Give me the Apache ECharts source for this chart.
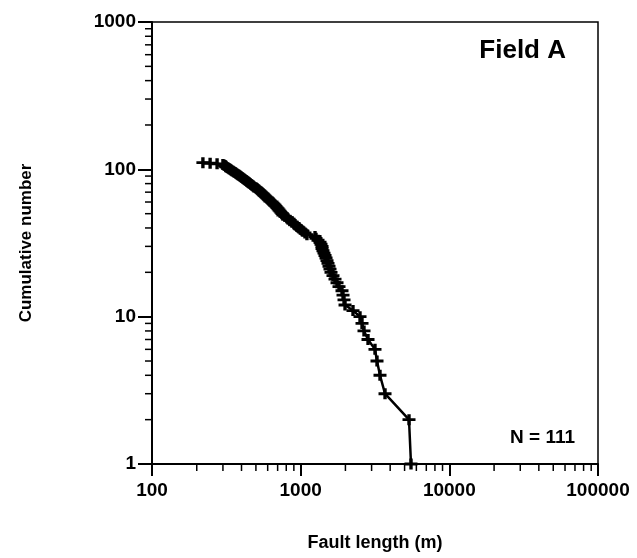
<!DOCTYPE html>
<html>
<head>
<meta charset="utf-8">
<script src="https://cdn.jsdelivr.net/npm/echarts@6/dist/echarts.min.js"></script>
<style>
    html, body { margin: 0; padding: 0; background: #fff; }
    #chart { width: 637px; height: 558px; }
</style>
</head>
<body>
<div id="chart"></div>
<script>
// fault lengths (m), smallest first
const faultLength = [
    220, 246, 274, 300,
    305, 310, 314, 314, 320, 325, 330, 335, 340, 345, 351, 356, 362, 367, 373, 379, 385, 391,
    397, 403, 409, 416, 422, 429, 435, 442, 449, 456, 463, 470, 478, 485, 500, 508,
    516, 524, 532, 541, 549, 558, 566, 575, 584, 593, 603, 612, 622, 641, 651,
    661, 672, 682, 693, 704, 715, 726, 737, 749, 760,
    784, 809, 821, 847, 874, 901, 915, 944,
    974, 1005, 1036, 1069, 1102,
    1249, 1268, 1308, 1349,
    1370, 1392, 1392, 1413, 1435, 1458,
    1481, 1504, 1527, 1551, 1575,
    1600, 1650, 1702, 1756,
    1811, 1897, 1927, 1957, 1988,
    2249, 2507, 2586, 2667, 2838, 3162, 3262, 3417, 3693, 5355, 5523
];
// cumulative number for each length
const cumulativeNumber = [
    111, 110, 109, 108, 107, 106, 105, 104, 103, 102, 101, 100,
    99, 98, 97, 96, 95, 94, 93, 92, 91, 90, 89, 88, 87, 86, 85, 84, 83, 82, 81, 80,
    79, 78, 77, 76, 75, 74, 73, 72, 71, 70, 69, 68, 67, 66, 65, 64, 63, 62, 61, 60,
    59, 58, 57, 56, 55, 54, 53, 52, 51, 50, 49, 48, 47, 46, 45, 44, 43, 42, 41, 40,
    39, 38, 37, 36, 35, 34, 33, 32, 31, 30, 29, 28, 27, 26, 25, 24, 23, 22, 21, 20,
    19, 18, 17, 16, 15, 14, 13, 12, 11, 10, 9, 8, 7, 6, 5, 4, 3, 2, 1
];
const xTicks = [100, 1000, 10000, 100000];
const yTicks = [1, 10, 100, 1000];
const minorSteps = [2, 3, 4, 5, 6, 7, 8, 9];

const font = 'Liberation Sans, Arial, sans-serif';
const crossSymbol = 'path://M0,3.7H3.7V0H6.3V3.7H10V6.3H6.3V10H3.7V6.3H0Z';

const option = {
    animation: false,
    backgroundColor: '#fff',
    grid: {
        left: 152,
        right: 39,
        top: 22,
        bottom: 94,
        show: true,
        borderColor: '#000',
        borderWidth: 1.5,
    },
    xAxis: {
        type: 'log',
        logBase: 10,
        min: xTicks[0],
        max: xTicks[xTicks.length - 1],
        name: 'Fault length (m)',
        nameLocation: 'middle',
        nameGap: 70,
        nameTextStyle: { color: '#000', fontSize: 18, fontWeight: 'bold', fontFamily: font },
        axisLine: { lineStyle: { color: '#000', width: 2 } },
        axisTick: { length: 12, lineStyle: { color: '#000', width: 2 } },
        axisLabel: {
            color: '#000', fontSize: 19, fontWeight: 'bold', fontFamily: font, margin: 17,
            formatter: (v) => String(Math.round(v)),
        },
        splitLine: { show: false },
    },
    yAxis: {
        type: 'log',
        logBase: 10,
        min: yTicks[0],
        max: yTicks[yTicks.length - 1],
        name: 'Cumulative number',
        nameLocation: 'middle',
        nameGap: 117,
        nameTextStyle: { color: '#000', fontSize: 17, fontWeight: 'bold', fontFamily: font },
        axisLine: { lineStyle: { color: '#000', width: 2 } },
        axisTick: { length: 14, lineStyle: { color: '#000', width: 2 } },
        axisLabel: {
            color: '#000', fontSize: 19, fontWeight: 'bold', fontFamily: font, margin: 16,
            formatter: (v) => String(Math.round(v)),
        },
        splitLine: { show: false },
    },
    series: [
        {
            type: 'line',
            data: faultLength.map((v, i) => [v, cumulativeNumber[i]]),
            symbol: crossSymbol,
            symbolSize: [13, 11],
            itemStyle: { color: '#000' },
            lineStyle: { color: '#000', width: 2.5 },
        },
    ],
};

const chart = echarts.init(document.getElementById('chart'));

// minor log ticks, placed through the axes' own scales
const renderMinorTicks = () => {
    const lines = [];
    const tickStyle = { stroke: '#000', lineWidth: 1.5 };
    for (let d = 0; d < xTicks.length - 1; d++) {
        minorSteps.forEach((m) => {
            const p = chart.convertToPixel({ gridIndex: 0 }, [xTicks[d] * m, yTicks[0]]);
            lines.push({ type: 'line', shape: { x1: p[0], y1: p[1], x2: p[0], y2: p[1] + 7 }, style: tickStyle });
        });
    }
    for (let d = 0; d < yTicks.length - 1; d++) {
        minorSteps.forEach((m) => {
            const p = chart.convertToPixel({ gridIndex: 0 }, [xTicks[0], yTicks[d] * m]);
            lines.push({ type: 'line', shape: { x1: p[0] - 7, y1: p[1], x2: p[0], y2: p[1] }, style: tickStyle });
        });
    }
    lines.push({
        type: 'text', right: 71, top: 38,
        style: { text: 'Field A', fill: '#000', font: 'bold 26px ' + font },
    });
    lines.push({
        type: 'text', right: 62, top: 428,
        style: { text: 'N = 111', fill: '#000', font: 'bold 19px ' + font },
    });
    chart.setOption({ graphic: lines });
};

chart.setOption(option);
renderMinorTicks();
</script>
</body>
</html>
